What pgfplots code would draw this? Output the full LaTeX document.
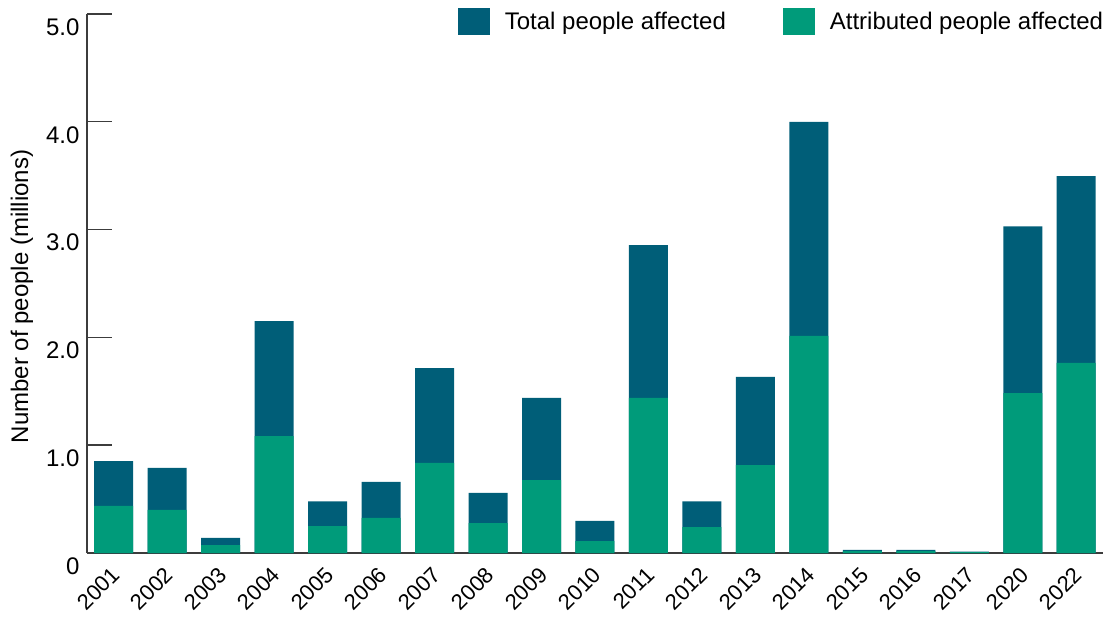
\documentclass[border=0pt]{standalone}
\usepackage{pgfplots}
\usepackage{pgfplotstable}
\pgfplotsset{compat=1.18}
\usepackage{fontspec}
\setmainfont{Liberation Sans}
\definecolor{totc}{HTML}{005E78}
\definecolor{attc}{HTML}{009B7A}
\definecolor{axc}{HTML}{3C3C3C}
\pgfplotstableread{
x total attr
0 0.853 0.436
1 0.790 0.400
2 0.140 0.074
3 2.150 1.085
4 0.480 0.250
5 0.660 0.325
6 1.716 0.835
7 0.557 0.278
8 1.438 0.677
9 0.297 0.111
10 2.857 1.438
11 0.480 0.240
12 1.633 0.816
13 4.000 2.013
14 0.030 0.018
15 0.030 0.018
16 0.012 0.008
17 3.030 1.484
18 3.497 1.763
}\data
\begin{document}
\begin{tikzpicture}[font=\fontsize{24bp}{28bp}\selectfont]
\begin{axis}[
  name=ax,
  scale only axis,
  width=1016bp, height=539bp,
  xmin=-0.5, xmax=18.5,
  ymin=0, ymax=5,
  axis lines=left,
  axis line style={-, axc, line width=1.4bp},
  every tick/.style={axc, line width=1.4bp},
  /pgf/number format/assume math mode=true,
  ytick={0,1,2,3,4,5},
  yticklabels={0,1.0,2.0,3.0,4.0,5.0},
  yticklabel style={anchor=north east, yshift=-1bp, xshift=-4bp},
  major tick length=25bp,
  tick align=inside,
  xtick={0,...,18},
  xticklabels={2001,2002,2003,2004,2005,2006,2007,2008,2009,2010,2011,2012,2013,2014,2015,2016,2017,2020,2022},
  x tick style={draw=none},
  xticklabel style={font=\fontsize{22bp}{26bp}\selectfont, rotate=45, anchor=north east, xshift=-8bp, yshift=-3bp},
  extra x ticks={-0.5,0.5,...,18.5},
  extra x tick labels={},
  extra x tick style={tick style={draw=axc, line width=1.4bp}, major tick length=12bp, tick align=inside},
  ylabel={Number of people (millions)},
  ylabel style={at={(rel axis cs:0,0.476)}, anchor=center, yshift=65bp},
  legend columns=2,
  legend style={draw=none, fill=none, at={(rel axis cs:1,1)}, anchor=north east, yshift=6bp,
    inner sep=0pt, outer sep=0pt, nodes={inner sep=0pt},
    /tikz/every even column/.append style={column sep=57bp}},
  legend image code/.code={\fill[#1] (0bp,-13.5bp) rectangle (32bp,13.5bp); \path (47bp,0bp);},
  clip=false,
]
\addplot[ybar, bar width=39bp, bar shift=0pt, fill=totc, draw=none] table[x=x,y=total]{\data};
\addlegendentry{Total people affected}
\addplot[ybar, bar width=39bp, bar shift=0pt, fill=attc, draw=none] table[x=x,y=attr]{\data};
\addlegendentry{Attributed people affected}
\end{axis}
\pgfresetboundingbox
\path[use as bounding box] (ax.south west) ++(-87bp,-66bp) rectangle ++(1113bp,619bp);
\end{tikzpicture}
\end{document}
